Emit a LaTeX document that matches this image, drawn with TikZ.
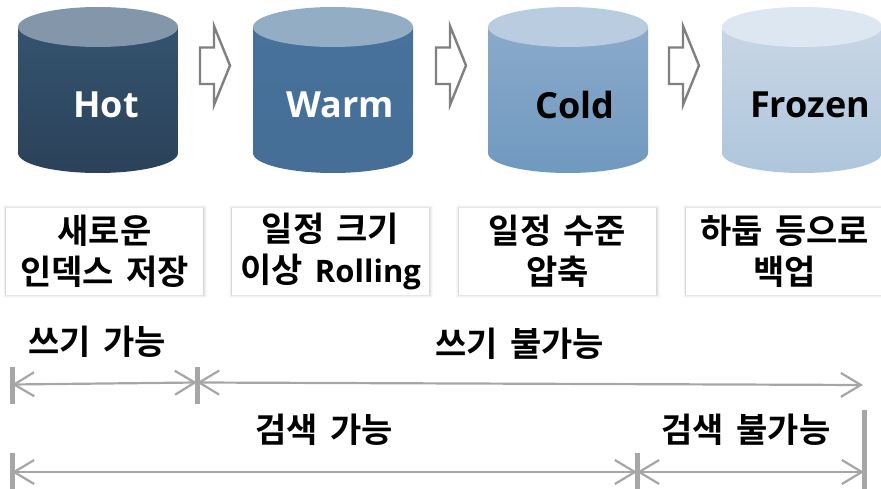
\documentclass[tikz,border=0pt]{standalone}
\usepackage{fontspec}
\setmainfont{Open Sans}
\newfontfamily\kr{Noto Sans CJK KR}[BoldFont=* Bold,WordSpace=1.6]
\usetikzlibrary{arrows.meta}
\definecolor{hotbody}{HTML}{34536F}
\definecolor{hotbase}{HTML}{2B4259}
\definecolor{hotlid}{HTML}{8496A9}
\definecolor{warmbody}{HTML}{47729B}
\definecolor{warmbase}{HTML}{466E97}
\definecolor{warmlid}{HTML}{93ADC5}
\definecolor{coldbody}{HTML}{8AAACA}
\definecolor{coldbase}{HTML}{7099C0}
\definecolor{coldlid}{HTML}{B9CCE0}
\definecolor{frozenbody}{HTML}{C8D6E6}
\definecolor{frozenbase}{HTML}{AEC6DC}
\definecolor{frozenlid}{HTML}{DDE7F1}
\definecolor{stepline}{HTML}{808080}
\definecolor{spanline}{HTML}{A6A6A6}
\tikzset{
  tierlabel/.style={inner sep=0pt,font=\fontsize{36}{36}\selectfont\bfseries},
  notebox/.style={fill=white,inner sep=0pt,minimum width=197pt,minimum height=86pt,align=center,
    font=\fontsize{34}{41}\selectfont\bfseries\kr,
    preaction={draw=black,opacity=.02,line width=7pt},
    preaction={draw=black,opacity=.03,line width=5pt},
    preaction={draw=black,opacity=.05,line width=3pt},
    preaction={draw=black,opacity=.06,line width=1.5pt}},
  spanlabel/.style={inner sep=0pt,font=\fontsize{34}{36}\selectfont\bfseries\kr},
  stepshape/.style={draw=stepline,line width=2.4pt,fill=white,miter limit=10},
  spanarrow/.style={draw=spanline,line width=2.2pt,{Straight Barb[length=20pt,width=24pt,line width=2.2pt]}-{Straight Barb[length=20pt,width=24pt,line width=2.2pt]}},
  spantick/.style={draw=spanline,line width=5pt}
}
\begin{document}
\begin{tikzpicture}[x=1pt,y=-1pt]
            \newcommand{\radius}{80}
            \newcommand{\lid}{27}
            \newcommand{\base}{153}
            \useasboundingbox (0,0) rectangle (881,489);
            % tiers
            \foreach \x/\tier in {18/hot,253/warm,488/cold,722/frozen} {
                \shade[top color=\tier body,bottom color=\tier base] (\x,\lid) -- (\x,\base)
                arc[start angle=180,end angle=0,x radius=\radius,y radius=20] -- (\x+2*\radius,\lid) -- cycle;
                \fill[\tier lid] (\x+\radius,\lid) ellipse[x radius=\radius,y radius=20];
            }
            \node[tierlabel,text=white] (hot) at (106,105) {Hot};
            \node[tierlabel,text=white] (warm) at (340,105) {Warm};
            \node[tierlabel] (cold) at (575,105) {Cold};
            \node[tierlabel] (frozen) at (810,105) {Frozen};
            % steps between tiers
            \foreach \x in {200,436,669} {
                \draw[stepshape] (\x,47.5) -- (\x+14,47.5) -- (\x+14,26) -- (\x+30,65.5)
                -- (\x+14,105) -- (\x+14,84) -- (\x,84) -- cycle;
            }
            % notes
            \node[notebox] (newindex) at (104.5,251.5) {새로운\\인덱스 저장};
            \node[notebox] (rolling) at (330.5,251.5) {일정 크기\\이상 {\fontsize{31}{41}\selectfont\rmfamily Rolling}};
            \node[notebox] (shrink) at (557.5,251.5) {일정 수준\\압축};
            \node[notebox] (backup) at (784.5,251.5) {하둡 등으로\\백업};
            % spans
            \node[spanlabel] (writeyes) at (97,342) {쓰기 가능};
            \node[spanlabel] (writeno) at (519.5,344) {쓰기 불가능};
            \node[spanlabel] (searchyes) at (324,430) {검색 가능};
            \node[spanlabel] (searchno) at (746,430) {검색 불가능};
            \coordinate (writeleft) at (12,384.5);
            \coordinate (writemid) at (197,382.5);
            \coordinate (writeend) at (863,385);
            \coordinate (searchleft) at (12,472);
            \coordinate (searchmid) at (637,472);
            \coordinate (searchend) at (864,472);
            \draw[spanarrow] (writeleft) -- (writemid);
            \draw[spanarrow] (writemid) -- (writeend);
            \draw[spanarrow] (searchleft) -- (searchmid);
            \draw[spanarrow] (searchmid) -- (searchend);
            \draw[spantick] (12,367) -- (12,404)
            (197,367) -- (197,404)
            (12,453) -- (12,489)
            (637,453) -- (637,489)
            (864,410) -- (864,489);
\end{tikzpicture}
\end{document}
